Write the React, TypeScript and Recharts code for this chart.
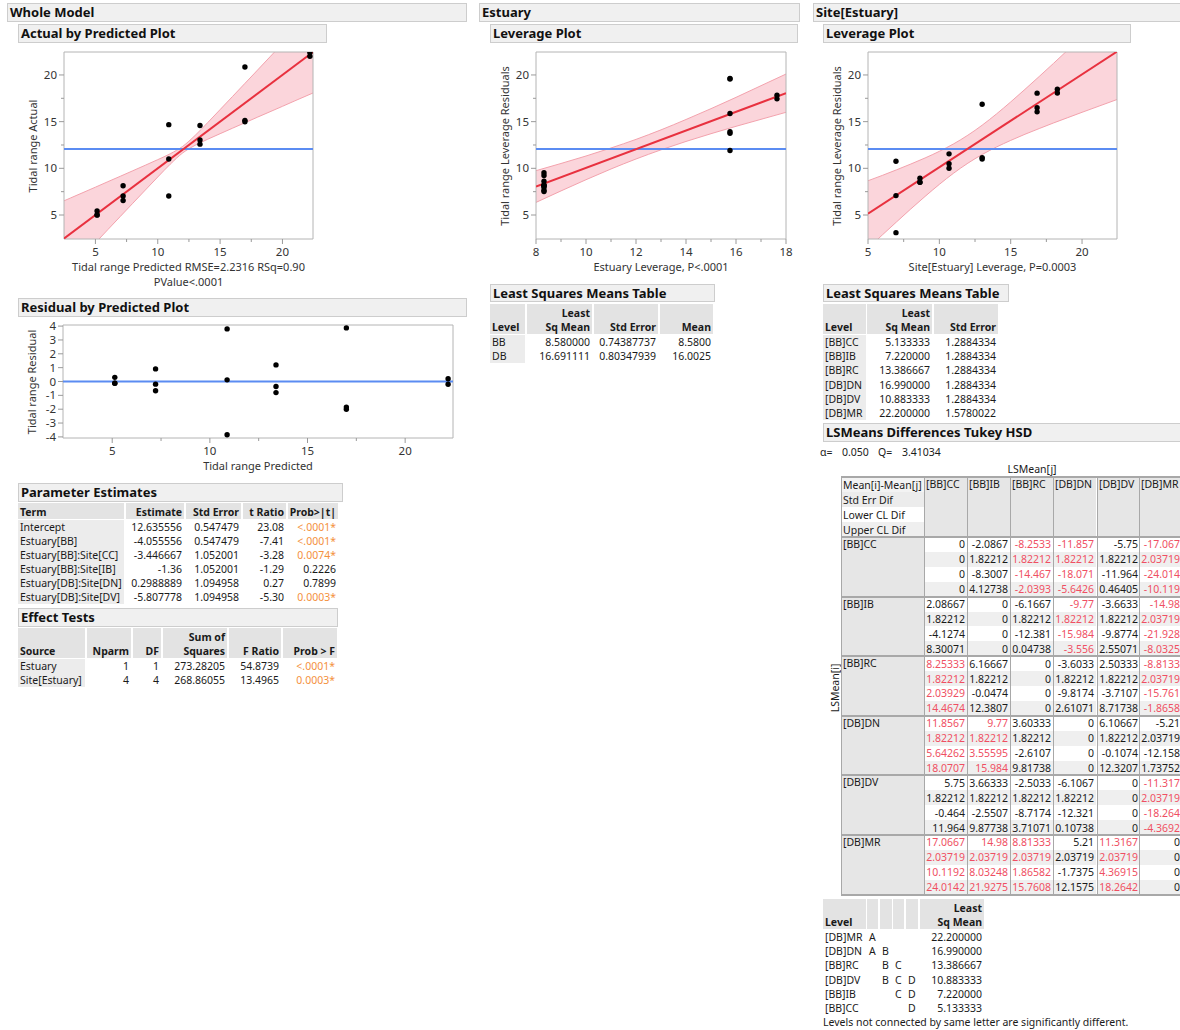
import React from "react";
import { ComposedChart, Scatter, Line, Area, XAxis, YAxis, ReferenceLine, ReferenceArea } from "recharts";

const FONT = "'Noto Sans', sans-serif";
const RED = "#e8313f";
const BLUE = "#5b8cf2";
const BAND_FILL = "#fbd5db";
const BAND_EDGE = "#f3a2ad";
const FRAME = "#b4b4b4";
const SIG_RED = "#ef4f63";
const ORANGE = "#f4913c";
const INK = "#1a1a1a";

// observations, site order CC, IB, RC, DN, DV, MR
const obsPredicted = [5.133, 5.133, 5.133, 7.22, 7.22, 7.22, 13.387, 13.387, 13.387, 16.99, 16.99, 16.99, 10.883, 10.883, 10.883, 22.2, 22.2];
const obsActual = [5.43, 5.01, 5.0, 8.13, 7.03, 6.55, 14.59, 13.03, 12.59, 20.86, 15.14, 14.99, 14.68, 11.0, 7.03, 22.4, 22.0];
const obsResidual = [0.3, -0.12, -0.13, 0.91, -0.19, -0.67, 1.2, -0.36, -0.8, 3.87, -1.85, -2.0, 3.8, 0.12, -3.85, 0.2, -0.2];
const estLevX = [8.32, 8.32, 8.32, 8.32, 8.32, 8.32, 8.32, 8.32, 8.32, 15.76, 15.76, 15.76, 15.76, 15.76, 15.76, 17.64, 17.64];
const estLevY = [8.62, 8.2, 8.19, 9.23, 8.13, 7.65, 9.52, 7.96, 7.52, 19.63, 13.91, 13.76, 19.56, 15.88, 11.91, 17.84, 17.44];
const siteLevX = [8.64, 8.64, 8.64, 10.68, 10.68, 10.68, 16.85, 16.85, 16.85, 13.0, 13.0, 13.0, 6.96, 6.96, 6.96, 18.27, 18.27];
const siteLevY = [8.94, 8.52, 8.51, 11.55, 10.49, 10.01, 18.05, 16.49, 16.05, 16.87, 11.15, 11.0, 10.76, 7.08, 3.11, 18.47, 18.07];
const meanActual = 12.07;

// fitted lines (end points)
const fitWholeX = [2.48, 22.45];
const fitWholeY = [2.48, 22.45];
const fitEstX = [8, 18];
const fitEstY = [8.05, 18.05];
const fitSiteX = [5, 22.45];
const fitSiteY = [5.15, 22.5];

// confidence bands
const bandWholeX = [2.48, 3, 4, 5, 6, 7, 8, 9, 10, 11, 12, 13, 14, 15, 16, 17, 18, 19, 20, 21, 22.45];
const bandWholeLo = [-1.55, -0.82, 0.6, 2.02, 3.44, 4.85, 6.26, 7.67, 9.07, 10.44, 11.65, 12.47, 13.11, 13.71, 14.3, 14.89, 15.48, 16.06, 16.64, 17.23, 18.07];
const bandWholeHi = [6.52, 6.82, 7.4, 7.98, 8.57, 9.15, 9.74, 10.33, 10.93, 11.56, 12.35, 13.53, 14.89, 16.29, 17.7, 19.11, 20.52, 21.94, 23.36, 24.78, 26.83];
const bandEstX = [8, 9, 10, 11, 12, 13, 14, 15, 16, 17, 18];
const bandEstLo = [6.35, 7.58, 8.78, 9.93, 11.0, 11.98, 12.88, 13.71, 14.5, 15.25, 16.0];
const bandEstHi = [9.75, 10.52, 11.32, 12.18, 13.1, 14.12, 15.23, 16.39, 17.6, 18.85, 20.1];
const bandSiteX = [5, 6, 7, 8, 9, 10, 11, 12, 13, 14, 15, 16, 17, 18, 19, 20, 22.45];
const bandSiteLo = [1.43, 2.86, 4.26, 5.65, 6.99, 8.28, 9.48, 10.55, 11.48, 12.28, 12.99, 13.65, 14.26, 14.86, 15.43, 16.0, 17.37];
const bandSiteHi = [8.67, 9.24, 9.84, 10.46, 11.11, 11.82, 12.62, 13.55, 14.62, 15.82, 17.11, 18.46, 19.84, 21.24, 22.67, 24.1, 27.63];

// ticks
const ticks25 = [5, 7.5, 10, 12.5, 15, 17.5, 20];
const major5 = [5, 10, 15, 20];
const residTicks = [-4, -3, -2, -1, 0, 1, 2, 3, 4];
const estTicks = [8, 9, 10, 11, 12, 13, 14, 15, 16, 17, 18];
const estMajor = [8, 10, 12, 14, 16, 18];

// parameter estimates
const peTerms = ["Intercept", "Estuary[BB]", "Estuary[BB]:Site[CC]", "Estuary[BB]:Site[IB]", "Estuary[DB]:Site[DN]", "Estuary[DB]:Site[DV]"];
const peEstimate = ["12.635556", "-4.055556", "-3.446667", "-1.36", "0.2988889", "-5.807778"];
const peStdErr = ["0.547479", "0.547479", "1.052001", "1.052001", "1.094958", "1.094958"];
const peTRatio = ["23.08", "-7.41", "-3.28", "-1.29", "0.27", "-5.30"];
const peProb = ["<.0001*", "<.0001*", "0.0074*", "0.2226", "0.7899", "0.0003*"];

// effect tests
const etSource = ["Estuary", "Site[Estuary]"];
const etNparm = ["1", "4"];
const etDF = ["1", "4"];
const etSS = ["273.28205", "268.86055"];
const etF = ["54.8739", "13.4965"];
const etProb = ["<.0001*", "0.0003*"];

// LS means
const estLevels = ["BB", "DB"];
const estLSM = ["8.580000", "16.691111"];
const estSE = ["0.74387737", "0.80347939"];
const estMean = ["8.5800", "16.0025"];
const siteLevels = ["[BB]CC", "[BB]IB", "[BB]RC", "[DB]DN", "[DB]DV", "[DB]MR"];
const siteLSM = ["5.133333", "7.220000", "13.386667", "16.990000", "10.883333", "22.200000"];
const siteSE = ["1.2884334", "1.2884334", "1.2884334", "1.2884334", "1.2884334", "1.5780022"];

// Tukey HSD differences
const diffMean = [
  ["0", "-2.0867", "-8.2533", "-11.857", "-5.75", "-17.067"],
  ["2.08667", "0", "-6.1667", "-9.77", "-3.6633", "-14.98"],
  ["8.25333", "6.16667", "0", "-3.6033", "2.50333", "-8.8133"],
  ["11.8567", "9.77", "3.60333", "0", "6.10667", "-5.21"],
  ["5.75", "3.66333", "-2.5033", "-6.1067", "0", "-11.317"],
  ["17.0667", "14.98", "8.81333", "5.21", "11.3167", "0"],
];
const diffStdErr = [
  ["0", "1.82212", "1.82212", "1.82212", "1.82212", "2.03719"],
  ["1.82212", "0", "1.82212", "1.82212", "1.82212", "2.03719"],
  ["1.82212", "1.82212", "0", "1.82212", "1.82212", "2.03719"],
  ["1.82212", "1.82212", "1.82212", "0", "1.82212", "2.03719"],
  ["1.82212", "1.82212", "1.82212", "1.82212", "0", "2.03719"],
  ["2.03719", "2.03719", "2.03719", "2.03719", "2.03719", "0"],
];
const diffLower = [
  ["0", "-8.3007", "-14.467", "-18.071", "-11.964", "-24.014"],
  ["-4.1274", "0", "-12.381", "-15.984", "-9.8774", "-21.928"],
  ["2.03929", "-0.0474", "0", "-9.8174", "-3.7107", "-15.761"],
  ["5.64262", "3.55595", "-2.6107", "0", "-0.1074", "-12.158"],
  ["-0.464", "-2.5507", "-8.7174", "-12.321", "0", "-18.264"],
  ["10.1192", "8.03248", "1.86582", "-1.7375", "4.36915", "0"],
];
const diffUpper = [
  ["0", "4.12738", "-2.0393", "-5.6426", "0.46405", "-10.119"],
  ["8.30071", "0", "0.04738", "-3.556", "2.55071", "-8.0325"],
  ["14.4674", "12.3807", "0", "2.61071", "8.71738", "-1.8658"],
  ["18.0707", "15.984", "9.81738", "0", "12.3207", "1.73752"],
  ["11.964", "9.87738", "3.71071", "0.10738", "0", "-4.3692"],
  ["24.0142", "21.9275", "15.7608", "12.1575", "18.2642", "0"],
];
const diffSignificant = [[2, 3, 5], [3, 5], [0, 5], [0, 1], [5], [0, 1, 2, 4]];
const diffRowLabels = ["Mean[i]-Mean[j]", "Std Err Dif", "Lower CL Dif", "Upper CL Dif"];

// connecting letters
const clLevels = ["[DB]MR", "[DB]DN", "[BB]RC", "[DB]DV", "[BB]IB", "[BB]CC"];
const clLetters = [["A", "", "", ""], ["A", "B", "", ""], ["", "B", "C", ""], ["", "B", "C", "D"], ["", "", "C", "D"], ["", "", "", "D"]];
const clLSM = ["22.200000", "16.990000", "13.386667", "10.883333", "7.220000", "5.133333"];

type Pt = { x: number; y: number };
const pairs = (xs: number[], ys: number[]): Pt[] => xs.map((x, i) => ({ x, y: ys[i] }));
const bands = (xs: number[], lo: number[], hi: number[]) => xs.map((x, i) => ({ x, band: [lo[i], hi[i]] }));

function XTick({ x, y, payload, major }: any) {
  const isMajor = major.includes(payload.value);
  return (
    <g>
      <line x1={x} x2={x} y1={y} y2={y + (isMajor ? 5 : 3)} stroke="#9a9a9a" />
      {isMajor && (
        <text x={x} y={y + 17} textAnchor="middle" fontSize={11.5} fill="#333" fontFamily={FONT}>
          {payload.value}
        </text>
      )}
    </g>
  );
}

function YTick({ x, y, payload, major }: any) {
  const isMajor = major.includes(payload.value);
  return (
    <g>
      <line x1={x - (isMajor ? 5 : 3)} x2={x} y1={y} y2={y} stroke="#9a9a9a" />
      {isMajor && (
        <text x={x - 7} y={y + 4} textAnchor="end" fontSize={11.5} fill="#333" fontFamily={FONT}>
          {payload.value}
        </text>
      )}
    </g>
  );
}

const dot = (p: any) => <circle cx={p.cx} cy={p.cy} r={2.7} fill="#000" />;

interface PlotProps {
  left: number;
  top: number;
  w: number;
  h: number;
  xDomain: [number, number];
  yDomain: [number, number];
  xTicks: number[];
  xMajor: number[];
  yTicks: number[];
  yMajor: number[];
  points: Pt[];
  fit?: Pt[];
  band?: { x: number; band: number[] }[];
  refY: number;
  xTitle: string[];
  yTitle: string;
}

function Plot(p: PlotProps) {
  return (
    <>
      <div style={{ position: "absolute", left: p.left - 40, top: p.top - 6 }}>
        <ComposedChart width={p.w + 52} height={p.h + 30} margin={{ top: 6, right: 12, left: 0, bottom: 4 }}>
          <XAxis
            type="number"
            dataKey="x"
            domain={p.xDomain}
            allowDataOverflow
            ticks={p.xTicks}
            interval={0}
            tick={<XTick major={p.xMajor} />}
            tickLine={false}
            axisLine={false}
            tickSize={0}
            tickMargin={0}
            height={20}
          />
          <YAxis
            type="number"
            dataKey="y"
            domain={p.yDomain}
            allowDataOverflow
            ticks={p.yTicks}
            interval={0}
            tick={<YTick major={p.yMajor} />}
            tickLine={false}
            axisLine={false}
            tickSize={0}
            tickMargin={0}
            width={40}
          />
          {p.band && (
            <Area
              data={p.band}
              dataKey="band"
              type="monotone"
              fill={BAND_FILL}
              fillOpacity={1}
              stroke={BAND_EDGE}
              strokeWidth={1}
              dot={false}
              activeDot={false}
              isAnimationActive={false}
            />
          )}
          <ReferenceLine y={p.refY} stroke={BLUE} strokeWidth={2} />
          {p.fit && (
            <Line data={p.fit} dataKey="y" type="linear" stroke={RED} strokeWidth={2} dot={false} activeDot={false} isAnimationActive={false} />
          )}
          <Scatter data={p.points} dataKey="y" shape={dot} isAnimationActive={false} />
          <ReferenceArea
            x1={p.xDomain[0]}
            x2={p.xDomain[1]}
            y1={p.yDomain[0]}
            y2={p.yDomain[1]}
            fill="none"
            stroke={FRAME}
            ifOverflow="visible"
          />
        </ComposedChart>
      </div>
      <div
        style={{
          position: "absolute",
          left: p.left + p.w / 2,
          top: p.top + p.h + 20,
          transform: "translateX(-50%)",
          textAlign: "center",
          fontSize: 11,
          lineHeight: "15px",
          color: "#333",
          whiteSpace: "nowrap",
        }}
      >
        {p.xTitle.map((t) => (
          <div key={t}>{t}</div>
        ))}
      </div>
      <div
        style={{
          position: "absolute",
          left: p.left - 32,
          top: p.top + p.h / 2,
          transform: "translate(-50%, -50%) rotate(-90deg)",
          fontSize: 11,
          color: "#333",
          whiteSpace: "nowrap",
        }}
      >
        {p.yTitle}
      </div>
    </>
  );
}

function Bar({ x, y, w, h = 19, text }: { x: number; y: number; w: number; h?: number; text: string }) {
  return (
    <div
      style={{
        position: "absolute",
        left: x,
        top: y,
        width: w,
        height: h,
        boxSizing: "border-box",
        background: "#f0f0f0",
        border: "1px solid #cdcdcd",
        fontWeight: 700,
        fontSize: 13,
        lineHeight: h - 2 + "px",
        paddingLeft: 2,
        color: "#111",
        whiteSpace: "nowrap",
        overflow: "hidden",
      }}
    >
      {text}
    </div>
  );
}

interface CellProps {
  x: number;
  y: number;
  w: number;
  h: number;
  bg?: string;
  align?: "left" | "right" | "center";
  valign?: "top" | "center" | "bottom";
  color?: string;
  bold?: boolean;
  lines: string[];
}

function Cell({ x, y, w, h, bg, align = "right", valign = "center", color = INK, bold, lines }: CellProps) {
  return (
    <div
      style={{
        position: "absolute",
        left: x,
        top: y,
        width: w,
        height: h,
        background: bg,
        boxSizing: "border-box",
        padding: "0 2px",
        display: "flex",
        flexDirection: "column",
        justifyContent: valign === "bottom" ? "flex-end" : valign === "top" ? "flex-start" : "center",
        alignItems: align === "right" ? "flex-end" : align === "center" ? "center" : "flex-start",
        fontSize: 10.5,
        fontWeight: bold ? 700 : 400,
        color,
        lineHeight: "14px",
        whiteSpace: "nowrap",
      }}
    >
      {lines.map((l, i) => (
        <div key={i}>{l}</div>
      ))}
    </div>
  );
}

const HEAD = "#e3e3e3";
const LABEL = "#ececec";
const ALT = "#efefef";

type Col = { x: number; w: number; head: string[]; align?: "left" | "right" | "center" };

function Table({ cols, headY, headH, rowY, rowH, rows, colors, labelBg = true }: {
  cols: Col[];
  headY: number;
  headH: number;
  rowY: number;
  rowH: number;
  rows: string[][];
  colors?: (string | undefined)[][];
  labelBg?: boolean;
}) {
  return (
    <>
      {cols.map((c, i) => (
        <Cell key={"h" + i} x={c.x} y={headY} w={c.w} h={headH} bg={HEAD} bold valign="bottom" align={c.align ?? "right"} lines={c.head} />
      ))}
      {rows.map((r, ri) =>
        r.map((v, ci) => (
          <Cell
            key={ri + "-" + ci}
            x={cols[ci].x}
            y={rowY + ri * rowH}
            w={cols[ci].w}
            h={rowH}
            bg={ci === 0 && labelBg ? LABEL : undefined}
            align={cols[ci].align ?? "right"}
            color={colors?.[ri]?.[ci] ?? INK}
            lines={[v]}
          />
        ))
      )}
    </>
  );
}

const probColor = (s: string) => (s.endsWith("*") ? ORANGE : INK);

function Tukey() {
  const colX = [924, 967, 1010, 1053, 1097, 1139];
  const colW = 43;
  const top = 477;
  const headH = 60;
  const rowH = 14.9;
  const blockH = rowH * 4;
  const bodyTop = top + headH;
  const bottom = bodyTop + blockH * 6;
  const stats = [diffMean, diffStdErr, diffLower, diffUpper];
  const rowBg = (r: number) => (r % 2 === 1 ? ALT : "#fff");
  const legendBg = ["#f3f3f3", "#ececec", "#fff", "#efefef"];
  return (
    <>
      <Cell x={1000} y={462} w={64} h={14} align="center" lines={["LSMean[j]"]} />
      <div
        style={{
          position: "absolute",
          left: 835,
          top: 688,
          transform: "translate(-50%, -50%) rotate(-90deg)",
          fontSize: 10.5,
          color: INK,
          whiteSpace: "nowrap",
        }}
      >
        LSMean[i]
      </div>
      {diffRowLabels.map((l, r) => (
        <Cell key={l} x={841} y={top + r * 15} w={83} h={15} bg={legendBg[r]} align="left" lines={[l]} />
      ))}
      {siteLevels.map((s, c) => (
        <Cell key={"ch" + s} x={colX[c]} y={top} w={colW} h={headH} bg="#e6e6e6" align="left" valign="top" lines={[s]} />
      ))}
      {siteLevels.map((s, b) => (
        <React.Fragment key={"blk" + s}>
          <Cell x={841} y={bodyTop + b * blockH} w={83} h={blockH} bg="#e6e6e6" align="left" valign="top" lines={[s]} />
          {stats.map((st, r) =>
            st[b].map((v, c) => (
              <Cell
                key={r + "-" + c}
                x={colX[c]}
                y={bodyTop + b * blockH + r * rowH}
                w={colW}
                h={rowH}
                bg={rowBg(r)}
                color={diffSignificant[b].includes(c) ? SIG_RED : INK}
                lines={[v]}
              />
            ))
          )}
        </React.Fragment>
      ))}
      {[841, ...colX].map((x) => (
        <div key={"v" + x} style={{ position: "absolute", left: x, top, width: 1, height: bottom - top, background: "#a8a8a8" }} />
      ))}
      {[0, 1, 2, 3, 4, 5, 6].map((b) => (
        <div
          key={"hz" + b}
          style={{ position: "absolute", left: 841, top: (b === 0 ? top : bodyTop + (b - 1) * blockH) - 1, width: 345, height: 2, background: "#a8a8a8" }}
        />
      ))}
      <div style={{ position: "absolute", left: 841, top: bottom - 1, width: 345, height: 2, background: "#a8a8a8" }} />
    </>
  );
}

const alphaParts: [number, string][] = [[820, "α="], [842, "0.050"], [878, "Q="], [902, "3.41034"]];

export default function App() {
  const actualPts = pairs(obsPredicted, obsActual);
  const residPts = pairs(obsPredicted, obsResidual);
  const estPts = pairs(estLevX, estLevY);
  const sitePts = pairs(siteLevX, siteLevY);

  const peRows = peTerms.map((t, i) => [t, peEstimate[i], peStdErr[i], peTRatio[i], peProb[i]]);
  const peColors = peProb.map((p) => [INK, INK, INK, INK, probColor(p)]);
  const etRows = etSource.map((s, i) => [s, etNparm[i], etDF[i], etSS[i], etF[i], etProb[i]]);
  const etColors = etProb.map((p) => [INK, INK, INK, INK, INK, probColor(p)]);
  const estRows = estLevels.map((l, i) => [l, estLSM[i], estSE[i], estMean[i]]);
  const siteRows = siteLevels.map((l, i) => [l, siteLSM[i], siteSE[i]]);
  const clRows = clLevels.map((l, i) => [l, ...clLetters[i], clLSM[i]]);

  return (
    <div
      style={{
        position: "relative",
        width: 1180,
        height: 1030,
        overflow: "hidden",
        background: "#fff",
        fontFamily: FONT,
        color: INK,
      }}
    >
      <style>{"body{margin:0}"}</style>

      <Bar x={7} y={3} w={460} text="Whole Model" />
      <Bar x={18} y={24} w={309} text="Actual by Predicted Plot" />
      <Bar x={479} y={3} w={321} text="Estuary" />
      <Bar x={490} y={24} w={308} text="Leverage Plot" />
      <Bar x={813} y={3} w={380} text="Site[Estuary]" />
      <Bar x={823} y={24} w={308} text="Leverage Plot" />

      <Plot
        left={64}
        top={52}
        w={249}
        h={187}
        xDomain={[2.48, 22.45]}
        yDomain={[2.43, 22.46]}
        xTicks={ticks25}
        xMajor={major5}
        yTicks={ticks25}
        yMajor={major5}
        points={actualPts}
        fit={pairs(fitWholeX, fitWholeY)}
        band={bands(bandWholeX, bandWholeLo, bandWholeHi)}
        refY={meanActual}
        xTitle={["Tidal range Predicted RMSE=2.2316 RSq=0.90", "PValue<.0001"]}
        yTitle="Tidal range Actual"
      />

      <Bar x={18} y={298} w={449} text="Residual by Predicted Plot" />
      <Plot
        left={63}
        top={325}
        w={390}
        h={113}
        xDomain={[2.48, 22.45]}
        yDomain={[-4.08, 4.08]}
        xTicks={ticks25}
        xMajor={major5}
        yTicks={residTicks}
        yMajor={residTicks}
        points={residPts}
        refY={0}
        xTitle={["Tidal range Predicted"]}
        yTitle="Tidal range Residual"
      />

      <Plot
        left={536}
        top={52}
        w={250}
        h={187}
        xDomain={[8, 18]}
        yDomain={[2.43, 22.46]}
        xTicks={estTicks}
        xMajor={estMajor}
        yTicks={ticks25}
        yMajor={major5}
        points={estPts}
        fit={pairs(fitEstX, fitEstY)}
        band={bands(bandEstX, bandEstLo, bandEstHi)}
        refY={meanActual}
        xTitle={["Estuary Leverage, P<.0001"]}
        yTitle="Tidal range Leverage Residuals"
      />

      <Plot
        left={868}
        top={52}
        w={249}
        h={187}
        xDomain={[5, 22.45]}
        yDomain={[2.43, 22.46]}
        xTicks={ticks25}
        xMajor={major5}
        yTicks={ticks25}
        yMajor={major5}
        points={sitePts}
        fit={pairs(fitSiteX, fitSiteY)}
        band={bands(bandSiteX, bandSiteLo, bandSiteHi)}
        refY={meanActual}
        xTitle={["Site[Estuary] Leverage, P=0.0003"]}
        yTitle="Tidal range Leverage Residuals"
      />

      <Bar x={18} y={483} w={325} text="Parameter Estimates" />
      <Table
        cols={[
          { x: 18, w: 106, head: ["Term"], align: "left" },
          { x: 126, w: 58, head: ["Estimate"] },
          { x: 186, w: 55, head: ["Std Error"] },
          { x: 243, w: 43, head: ["t Ratio"] },
          { x: 288, w: 50, head: ["Prob>|t|"] },
        ]}
        headY={503}
        headH={16}
        rowY={520}
        rowH={14}
        rows={peRows}
        colors={peColors}
      />

      <Bar x={18} y={608} w={320} text="Effect Tests" />
      <Table
        cols={[
          { x: 18, w: 67, head: ["Source"], align: "left" },
          { x: 87, w: 44, head: ["Nparm"] },
          { x: 133, w: 28, head: ["DF"] },
          { x: 163, w: 64, head: ["Sum of", "Squares"] },
          { x: 229, w: 52, head: ["F Ratio"] },
          { x: 283, w: 54, head: ["Prob > F"] },
        ]}
        headY={628}
        headH={30}
        rowY={659}
        rowH={14}
        rows={etRows}
        colors={etColors}
      />

      <Bar x={490} y={284} w={225} h={18} text="Least Squares Means Table" />
      <Table
        cols={[
          { x: 490, w: 35, head: ["Level"], align: "left" },
          { x: 527, w: 65, head: ["Least", "Sq Mean"] },
          { x: 594, w: 64, head: ["Std Error"] },
          { x: 660, w: 53, head: ["Mean"] },
        ]}
        headY={304}
        headH={30}
        rowY={335}
        rowH={14}
        rows={estRows}
      />

      <Bar x={823} y={284} w={186} h={18} text="Least Squares Means Table" />
      <Table
        cols={[
          { x: 823, w: 43, head: ["Level"], align: "left" },
          { x: 867, w: 65, head: ["Least", "Sq Mean"] },
          { x: 934, w: 64, head: ["Std Error"] },
        ]}
        headY={304}
        headH={30}
        rowY={335}
        rowH={14.2}
        rows={siteRows}
      />

      <Bar x={823} y={423} w={370} text="LSMeans Differences Tukey HSD" />
      {alphaParts.map(([x, t]) => (
        <div key={t} style={{ position: "absolute", left: x, top: 445, fontSize: 10.5, whiteSpace: "nowrap", lineHeight: "14px" }}>
          {t}
        </div>
      ))}
      <Tukey />

      <Table
        cols={[
          { x: 823, w: 43, head: ["Level"], align: "left" },
          { x: 867, w: 11, head: [""], align: "left" },
          { x: 880, w: 12, head: [""], align: "left" },
          { x: 893, w: 11, head: [""], align: "left" },
          { x: 906, w: 12, head: [""], align: "left" },
          { x: 920, w: 64, head: ["Least", "Sq Mean"] },
        ]}
        headY={899}
        headH={30}
        rowY={930}
        rowH={14.2}
        rows={clRows}
        labelBg={false}
      />
      <div style={{ position: "absolute", left: 823, top: 1015, fontSize: 10.5, whiteSpace: "nowrap", lineHeight: "14px" }}>
        Levels not connected by same letter are significantly different.
      </div>
    </div>
  );
}
